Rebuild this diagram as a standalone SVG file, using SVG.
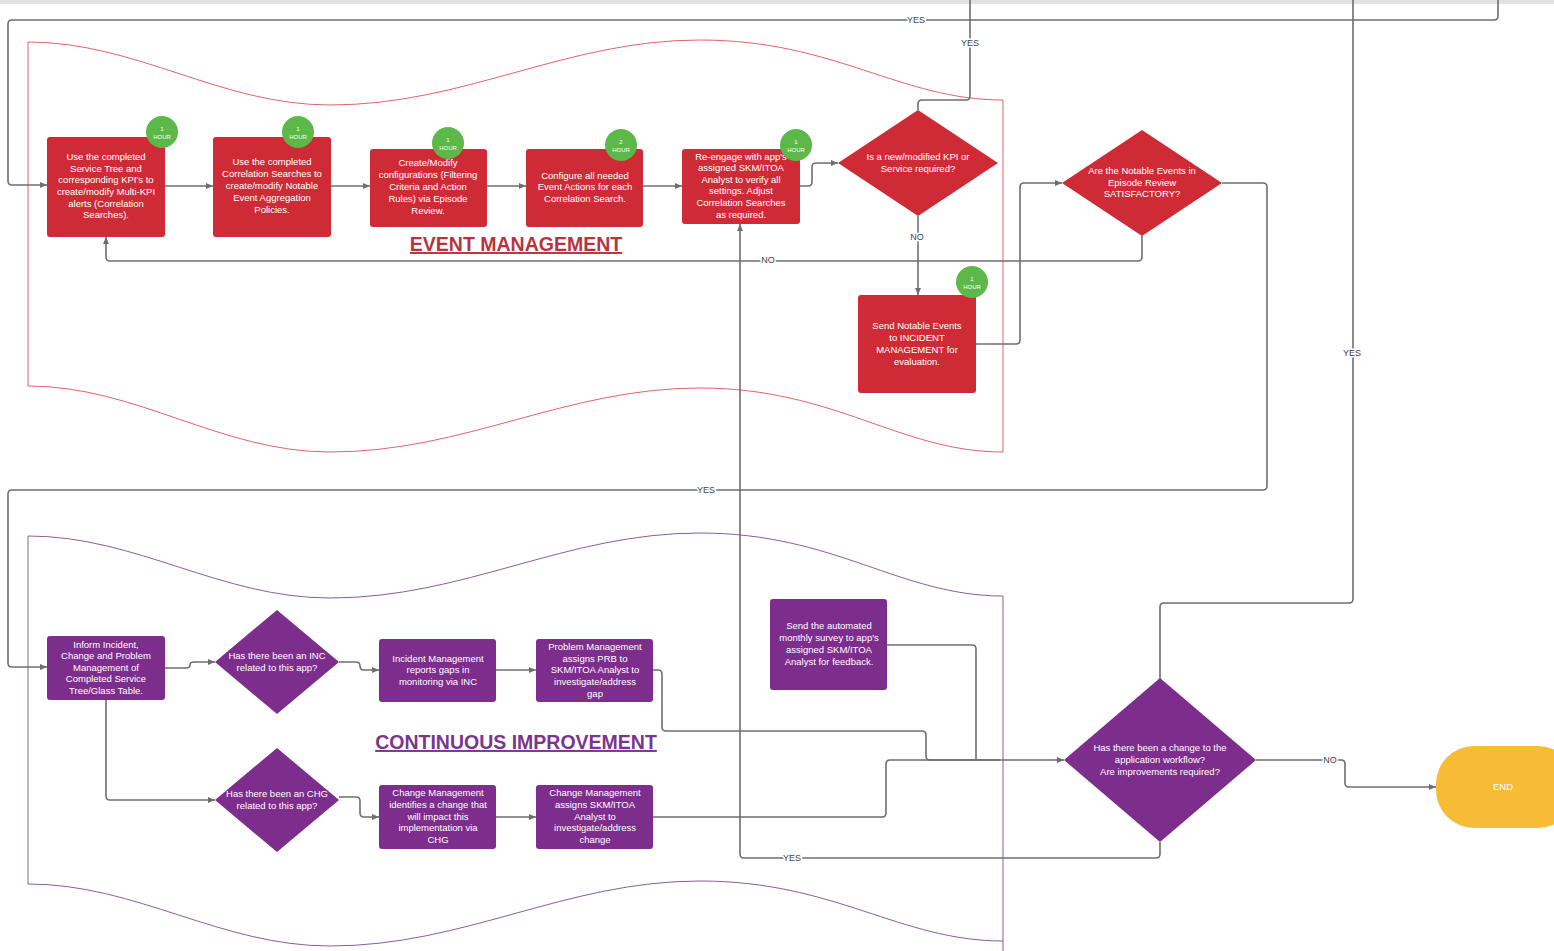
<svg xmlns="http://www.w3.org/2000/svg" width="1554" height="951" viewBox="0 0 1554 951">
<style>
.bg{fill:#ffffff}
.red{fill:#cf2b36}
.pur{fill:#7d2d8b}
.badge{fill:#5db84a}
.t{font-family:"Liberation Sans",Arial,sans-serif;font-size:9.5px;fill:#ffffff;text-anchor:middle}
.bt{font-family:"Liberation Sans",Arial,sans-serif;font-size:6px;fill:#ffffff;text-anchor:middle}
.c{fill:none;stroke:#6e6e6e;stroke-width:1.6}
.ca{fill:none;stroke:#6e6e6e;stroke-width:1.6;marker-end:url(#ah)}
.lbl{font-family:"Liberation Sans",Arial,sans-serif;font-size:9px;fill:#444;text-anchor:middle;stroke:#fff;stroke-width:3px;paint-order:stroke}
.title{font-family:"Liberation Sans",Arial,sans-serif;font-size:19.5px;font-weight:bold;text-anchor:middle;text-decoration:underline}
</style>
<defs>
<marker id="ah" markerWidth="8" markerHeight="8" refX="7" refY="4" orient="auto" markerUnits="userSpaceOnUse">
<path d="M0,1 L7,4 L0,7 Z" fill="#6e6e6e"/>
</marker>
</defs>
<rect class="bg" x="0" y="0" width="1554" height="951"/>
<rect x="0" y="0" width="1554" height="4" fill="#e2e2e2"/>

<g id="swimlanes">
<path id="lane-event" d="M28,42 C137,42 220,105 330,105 C465,105 565,40 700,40 C835,40 900,100 1003,100 V452 C900,452 835,388 700,388 C565,388 465,452 330,452 C220,452 137,386 28,386 Z" fill="none" stroke="#e2646a" stroke-width="1"/>
<path id="lane-ci" d="M28,536 C137,536 220,598 330,598 C465,598 565,533 700,533 C835,533 900,596 1003,596 V951 M28,536 V884 C137,884 220,946 330,946 C465,946 565,881 700,881 C835,881 900,941 1003,941" fill="none" stroke="#8d5c9b" stroke-width="1"/>
<text class="title" x="516" y="251" fill="#b8343c">EVENT MANAGEMENT</text>
<text class="title" x="516" y="749" fill="#7d3490">CONTINUOUS IMPROVEMENT</text>
</g>

<g id="connectors">
<path class="ca" d="M1498,0 V16 Q1498,20 1494,20 H12 Q8,20 8,24 V181 Q8,185 12,185 H47"/>
<path class="c" d="M918,110 V104 Q918,100 922,100 H966 Q970,100 970,96 V0"/>
<path class="c" d="M1353,0 V599 Q1353,603 1349,603 H1164 Q1160,603 1160,607 V680"/>
<path class="ca" d="M165,186 H213"/>
<path class="ca" d="M331,186 H370"/>
<path class="ca" d="M487,186 H526"/>
<path class="ca" d="M643,186 H682"/>
<path class="ca" d="M800,186 H808 Q812,186 812,182 V167 Q812,163 816,163 H838"/>
<path class="ca" d="M918,216 V295"/>
<path class="ca" d="M976,344 H1016 Q1020,344 1020,340 V187 Q1020,183 1024,183 H1062"/>
<path class="ca" d="M1142,236 V257 Q1142,261 1138,261 H110 Q106,261 106,257 V237"/>
<path class="ca" d="M1222,183 H1263 Q1267,183 1267,187 V486 Q1267,490 1263,490 H12 Q8,490 8,494 V663 Q8,667 12,667 H47"/>
<path class="ca" d="M1160,842 V854 Q1160,858 1156,858 H744 Q740,858 740,854 V224"/>
<path class="ca" d="M165,668 H186 Q190,668 190,665 Q190,662 194,662 H215"/>
<path class="ca" d="M339,662 H356 Q360,662 360,666 Q360,670 364,670 H379"/>
<path class="ca" d="M496,670 H536"/>
<path class="ca" d="M653,670 H658 Q662,670 662,674 V727 Q662,731 666,731 H922 Q926,731 926,735 V756 Q926,760 930,760 H1064"/>
<path class="c" d="M887,645 H972 Q976,645 976,649 V760"/>
<path class="ca" d="M106,700 V796 Q106,800 110,800 H215"/>
<path class="ca" d="M339,797 H356 Q360,797 360,801 V813 Q360,817 364,817 H379"/>
<path class="ca" d="M496,817 H536"/>
<path class="c" d="M653,817 H882 Q886,817 886,813 V764 Q886,760 890,760 H1000"/>
<path class="ca" d="M1256,760 H1341 Q1345,760 1345,764 V783 Q1345,787 1349,787 H1436"/>
<text class="lbl" x="916" y="23">YES</text>
<text class="lbl" x="970" y="46">YES</text>
<text class="lbl" x="1352" y="356">YES</text>
<text class="lbl" x="917" y="240">NO</text>
<text class="lbl" x="768" y="263">NO</text>
<text class="lbl" x="706" y="493">YES</text>
<text class="lbl" x="792" y="861">YES</text>
<text class="lbl" x="1330" y="763">NO</text>
</g>

<g id="n-box1">
<rect class="red" x="47" y="137" width="118" height="100" rx="3"/>
<text class="t" x="106" y="160">Use the completed</text>
<text class="t" x="106" y="172">Service Tree and</text>
<text class="t" x="106" y="183">corresponding KPI's to</text>
<text class="t" x="106" y="195">create/modify Multi-KPI</text>
<text class="t" x="106" y="207">alerts (Correlation</text>
<text class="t" x="106" y="218">Searches).</text>
<circle class="badge" cx="162" cy="132" r="16"/>
<text class="bt" x="162" y="131">1</text>
<text class="bt" x="162" y="139">HOUR</text>
</g>

<g id="n-box2">
<rect class="red" x="213" y="137" width="118" height="100" rx="3"/>
<text class="t" x="272" y="165">Use the completed</text>
<text class="t" x="272" y="177">Correlation Searches to</text>
<text class="t" x="272" y="189">create/modify Notable</text>
<text class="t" x="272" y="201">Event Aggregation</text>
<text class="t" x="272" y="213">Policies.</text>
<circle class="badge" cx="298" cy="132" r="16"/>
<text class="bt" x="298" y="131">1</text>
<text class="bt" x="298" y="139">HOUR</text>
</g>

<g id="n-box3">
<rect class="red" x="370" y="149" width="117" height="78" rx="3"/>
<text class="t" x="428" y="166">Create/Modify</text>
<text class="t" x="428" y="178">configurations (Filtering</text>
<text class="t" x="428" y="190">Criteria and Action</text>
<text class="t" x="428" y="202">Rules) via Episode</text>
<text class="t" x="428" y="214">Review.</text>
<circle class="badge" cx="448" cy="143" r="16"/>
<text class="bt" x="448" y="142">1</text>
<text class="bt" x="448" y="150">HOUR</text>
</g>

<g id="n-box4">
<rect class="red" x="526" y="149" width="117" height="78" rx="3"/>
<text class="t" x="585" y="179">Configure all needed</text>
<text class="t" x="585" y="190">Event Actions for each</text>
<text class="t" x="585" y="202">Correlation Search.</text>
<circle class="badge" cx="621" cy="145" r="16"/>
<text class="bt" x="621" y="144">2</text>
<text class="bt" x="621" y="152">HOUR</text>
</g>

<g id="n-box5">
<rect class="red" x="682" y="149" width="118" height="75" rx="3"/>
<text class="t" x="741" y="160">Re-engage with app's</text>
<text class="t" x="741" y="171">assigned SKM/ITOA</text>
<text class="t" x="741" y="183">Analyst to verify all</text>
<text class="t" x="741" y="194">settings. Adjust</text>
<text class="t" x="741" y="206">Correlation Searches</text>
<text class="t" x="741" y="218">as required.</text>
<circle class="badge" cx="796" cy="145" r="16"/>
<text class="bt" x="796" y="144">1</text>
<text class="bt" x="796" y="152">HOUR</text>
</g>

<g id="n-d1">
<polygon class="red" points="918,110 998,163 918,216 838,163"/>
<text class="t" x="918" y="160">Is a new/modified KPI or</text>
<text class="t" x="918" y="172">Service required?</text>
</g>

<g id="n-d2">
<polygon class="red" points="1142,130 1222,183 1142,236 1062,183"/>
<text class="t" x="1142" y="174">Are the Notable Events in</text>
<text class="t" x="1142" y="186">Episode Review</text>
<text class="t" x="1142" y="197">SATISFACTORY?</text>
</g>

<g id="n-box6">
<rect class="red" x="858" y="295" width="118" height="98" rx="3"/>
<text class="t" x="917" y="329">Send Notable Events</text>
<text class="t" x="917" y="341">to INCIDENT</text>
<text class="t" x="917" y="353">MANAGEMENT for</text>
<text class="t" x="917" y="365">evaluation.</text>
<circle class="badge" cx="972" cy="282" r="16"/>
<text class="bt" x="972" y="281">1</text>
<text class="bt" x="972" y="289">HOUR</text>
</g>

<g id="n-p1">
<rect class="pur" x="47" y="636" width="118" height="64" rx="3"/>
<text class="t" x="106" y="648">Inform Incident,</text>
<text class="t" x="106" y="659">Change and Problem</text>
<text class="t" x="106" y="671">Management of</text>
<text class="t" x="106" y="682">Completed Service</text>
<text class="t" x="106" y="694">Tree/Glass Table.</text>
</g>

<g id="n-dinc">
<polygon class="pur" points="277,610 339,662 277,714 215,662"/>
<text class="t" x="277" y="659">Has there been an INC</text>
<text class="t" x="277" y="671">related to this app?</text>
</g>

<g id="n-p2">
<rect class="pur" x="379" y="639" width="117" height="63" rx="3"/>
<text class="t" x="438" y="662">Incident Management</text>
<text class="t" x="438" y="673">reports gaps in</text>
<text class="t" x="438" y="685">monitoring via INC</text>
</g>

<g id="n-p3">
<rect class="pur" x="536" y="639" width="117" height="63" rx="3"/>
<text class="t" x="595" y="650">Problem Management</text>
<text class="t" x="595" y="662">assigns PRB to</text>
<text class="t" x="595" y="673">SKM/ITOA Analyst to</text>
<text class="t" x="595" y="685">investigate/address</text>
<text class="t" x="595" y="697">gap</text>
</g>

<g id="n-survey">
<rect class="pur" x="770" y="599" width="117" height="91" rx="3"/>
<text class="t" x="829" y="629">Send the automated</text>
<text class="t" x="829" y="641">monthly survey to app's</text>
<text class="t" x="829" y="653">assigned SKM/ITOA</text>
<text class="t" x="829" y="665">Analyst for feedback.</text>
</g>

<g id="n-dchg">
<polygon class="pur" points="277,748 339,800 277,852 215,800"/>
<text class="t" x="277" y="797">Has there been an CHG</text>
<text class="t" x="277" y="809">related to this app?</text>
</g>

<g id="n-p4">
<rect class="pur" x="379" y="785" width="117" height="64" rx="3"/>
<text class="t" x="438" y="796">Change Management</text>
<text class="t" x="438" y="808">identifies a change that</text>
<text class="t" x="438" y="820">will impact this</text>
<text class="t" x="438" y="831">implementation via</text>
<text class="t" x="438" y="843">CHG</text>
</g>

<g id="n-p5">
<rect class="pur" x="536" y="785" width="117" height="64" rx="3"/>
<text class="t" x="595" y="796">Change Management</text>
<text class="t" x="595" y="808">assigns SKM/ITOA</text>
<text class="t" x="595" y="820">Analyst to</text>
<text class="t" x="595" y="831">investigate/address</text>
<text class="t" x="595" y="843">change</text>
</g>

<g id="n-dbig">
<polygon class="pur" points="1160,678 1256,760 1160,842 1064,760"/>
<text class="t" x="1160" y="751">Has there been a change to the</text>
<text class="t" x="1160" y="763">application workflow?</text>
<text class="t" x="1160" y="775">Are improvements required?</text>
</g>

<g id="n-end">
<rect x="1436" y="746" width="140" height="82" rx="38" fill="#f7bc35"/>
<text class="t" x="1503" y="790" fill="#fbe3a8">END</text>
</g>
</svg>
